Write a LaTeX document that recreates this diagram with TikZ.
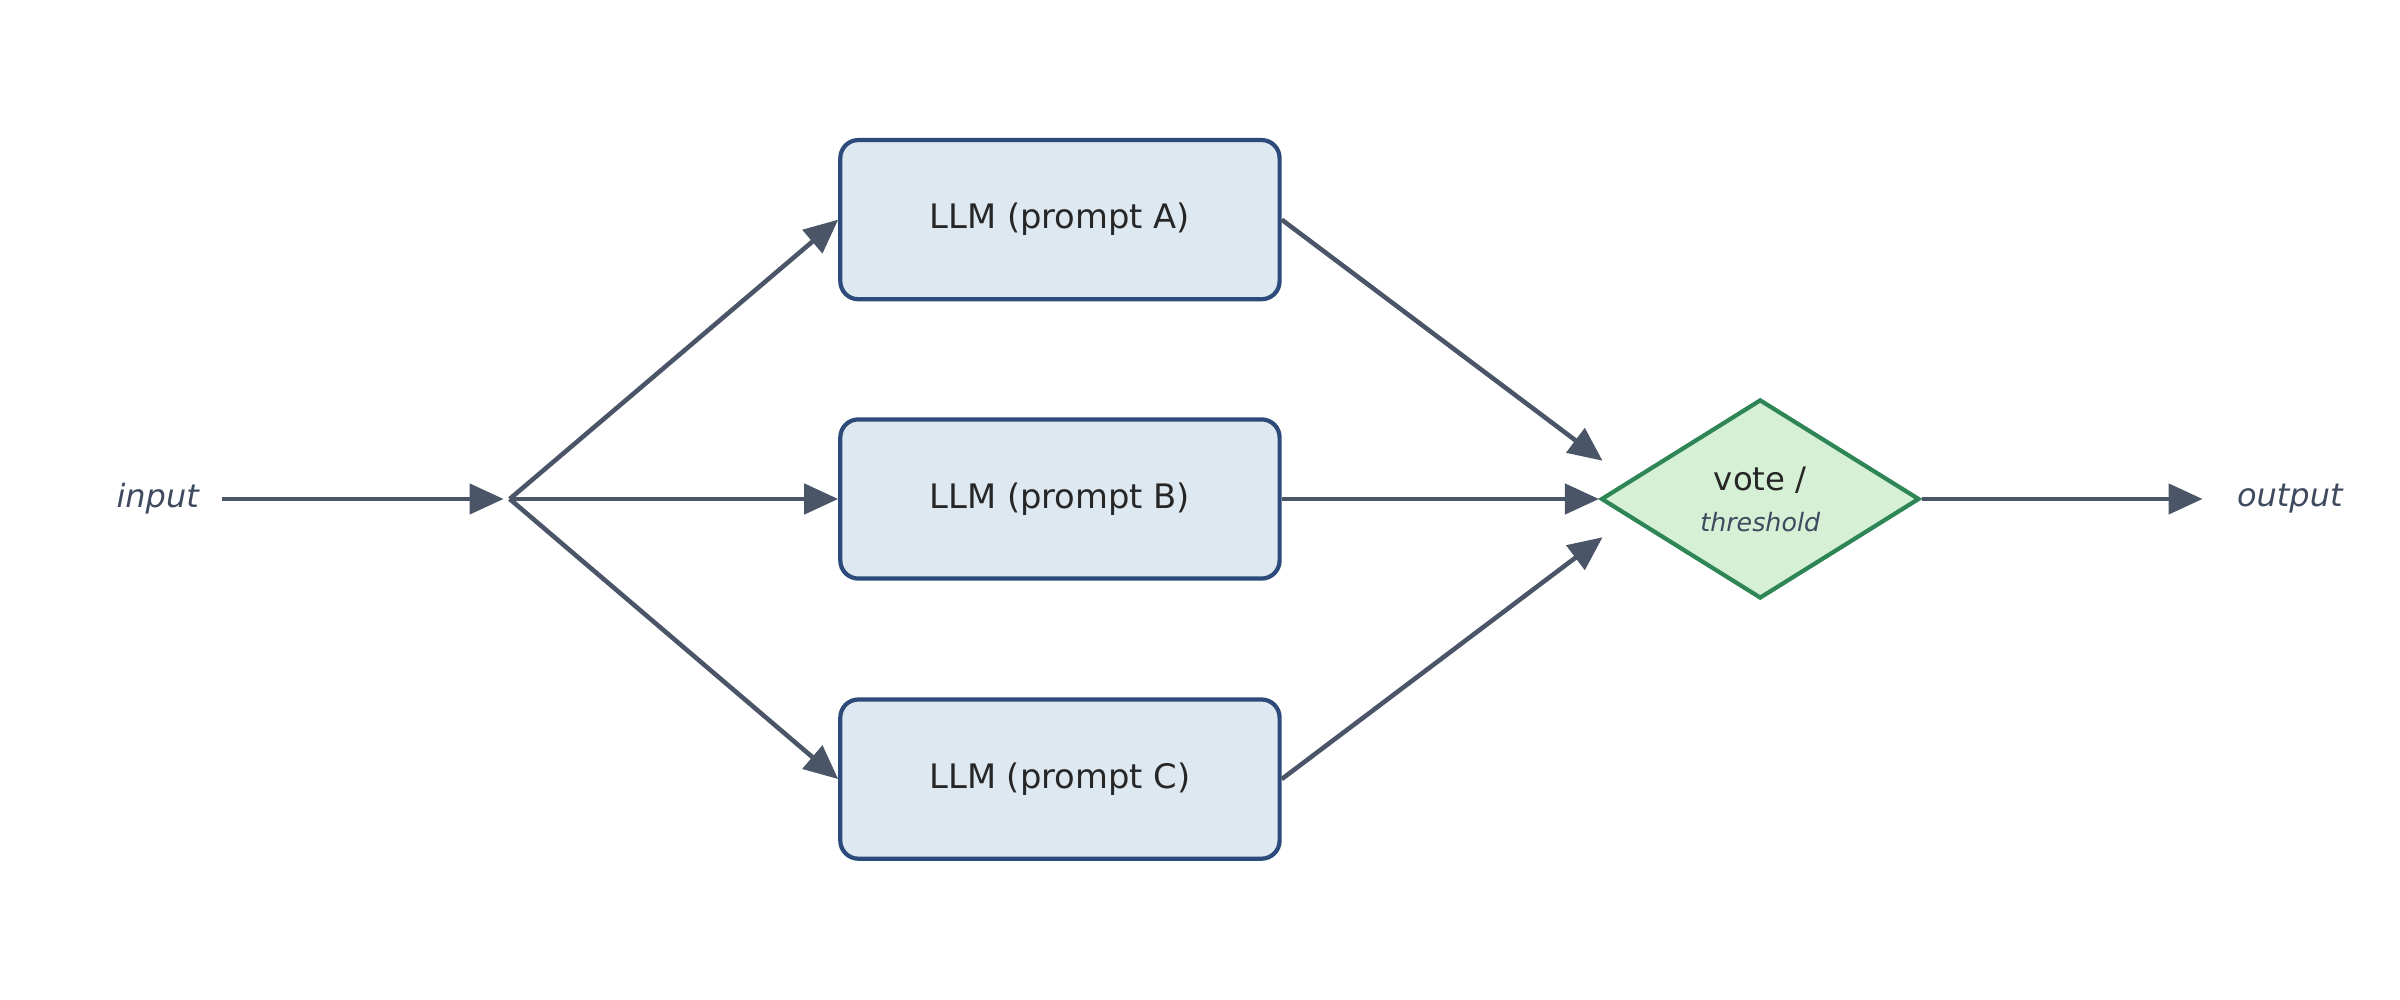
\documentclass[tikz,border=0pt]{standalone}
\usepackage{fontspec}
\setmainfont{DejaVu Sans}
\usetikzlibrary{arrows.meta,shapes.geometric}
\definecolor{edge}{HTML}{4A5568}
\definecolor{boxfill}{HTML}{DEE8F1}
\definecolor{boxdraw}{HTML}{2C4A7A}
\definecolor{dfill}{HTML}{D6F0D6}
\definecolor{ddraw}{HTML}{2E8555}
\definecolor{lbl}{HTML}{3E4A5E}
\begin{document}
\begin{tikzpicture}[x=0.015306cm,y=-0.015306cm,
  box/.style={draw=boxdraw,fill=boxfill,line width=1.2pt,rounded corners=0.18cm,minimum width=287*0.015306cm,minimum height=104*0.015306cm,font=\fontsize{9.6}{12}\selectfont,text=black!85},
  arr/.style={draw=edge,line width=1.3pt,-{Triangle[length=0.34cm,width=0.3cm]}},
  io/.style={font=\itshape\fontsize{9.1}{11}\selectfont,text=lbl}]
\useasboundingbox (0,0) rectangle (1568,653);
\node[io] (in) at (103,326) {input};
\node[io] (out) at (1496,326) {output};
\coordinate (s) at (145,326);
\coordinate (se) at (329,326);
\coordinate (fan) at (333,326);
\node[box] (A) at (692.5,143.5) {LLM (prompt A)};
\node[box] (B) at (692.5,326) {LLM (prompt B)};
\node[box] (C) at (692.5,509) {LLM (prompt C)};
\node[diamond,draw=ddraw,fill=dfill,line width=1.2pt,minimum width=208*0.015306cm,minimum height=130*0.015306cm,inner sep=0pt,aspect=1.6] (V) at (1150,326) {};
\node[font=\fontsize{9.2}{11}\selectfont,text=black!85] (vt) at (1150,314) {vote /};
\node[font=\itshape\fontsize{7.2}{9}\selectfont,text=lbl] (vth) at (1150,341) {threshold};
\coordinate (va) at (1047,301);
\coordinate (vc) at (1047,351);
\coordinate (oe) at (1439,326);
\draw[arr] (s) -- (se);
\draw[arr] (fan) -- (A.west);
\draw[arr] (fan) -- (B.west);
\draw[arr] (fan) -- (C.west);
\draw[arr] (A.east) -- (va);
\draw[arr] (B.east) -- (V.west);
\draw[arr] (C.east) -- (vc);
\draw[arr] (V.east) -- (oe);
\end{tikzpicture}
\end{document}
